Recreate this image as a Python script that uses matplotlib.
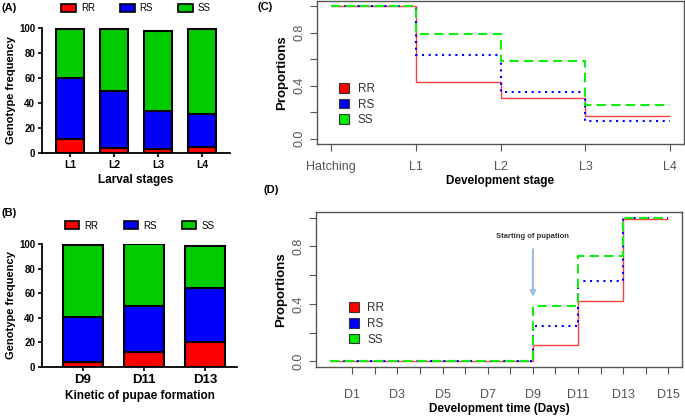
import numpy as np
import matplotlib
matplotlib.use("Agg")
import matplotlib.pyplot as plt
from matplotlib.patches import Patch

plt.rcParams['font.family'] = ['Liberation Sans', 'DejaVu Sans']

# Painel A - frequencia genotipica por estadio larval
larval = ["L1", "L2", "L3", "L4"]
a_rr = [11, 4, 3, 5]
a_rs = [49, 46, 31, 26]
a_ss = [39, 49, 64, 68]

# Painel B - formacao das pupas
pupae = ["D9", "D11", "D13"]
b_rr = [4, 12, 20]
b_rs = [37, 38, 44]
b_ss = [58, 50, 34]

# Painel C - proporcoes por estadio (degraus)
stages = ["Hatching", "L1", "L2", "L3", "L4"]
c_rr = [1.0, 0.43, 0.305, 0.175]
c_rs = [1.0, 0.63, 0.35, 0.13]
c_ss = [1.0, 0.79, 0.59, 0.255]

# Painel D - proporcoes por dia
d_edges = [0, 9, 11, 13, 15]
d_rr = [0.0, 0.11, 0.42, 0.99]
d_rs = [0.0, 0.243, 0.556, 1.0]
d_ss = [0.0, 0.387, 0.734, 1.0]
day_ticks = list(range(1, 16))

RED, BLUE, GREEN = "#ff0000", "#0000ff", "#00cc00"
GRAY = "#555555"

fig = plt.figure(figsize=(6.85, 4.16), dpi=100)


def bar_panel(rect, names, rr, rs, ss, width, xlim, tick_fs, xlabel, label_fs, leg_y, colsp):
    ax = fig.add_axes(rect)
    x = np.arange(len(names))
    kw = dict(width=width, edgecolor="black", linewidth=1.5)
    ax.bar(x, rr, color=RED, **kw)
    ax.bar(x, rs, bottom=rr, color=BLUE, **kw)
    ax.bar(x, ss, bottom=np.array(rr) + np.array(rs), color=GREEN, **kw)
    ax.set_xlim(*xlim)
    ax.set_ylim(0, 100)
    ax.set_yticks([0, 20, 40, 60, 80, 100])
    ax.set_xticks(x)
    ax.set_xticklabels(names, fontsize=tick_fs, fontweight="bold")
    for t in ax.get_yticklabels():
        t.set_fontsize(7)
        t.set_fontweight("bold")
    for s in ["top", "right"]:
        ax.spines[s].set_visible(False)
    for s in ["left", "bottom"]:
        ax.spines[s].set_linewidth(1.3)
    ax.tick_params(width=1.2, length=3, pad=2)
    ax.set_ylabel("Genotype frequency", fontsize=8, fontweight="bold", labelpad=2)
    ax.set_xlabel(xlabel, fontsize=label_fs, fontweight="bold", labelpad=3)
    handles = [Patch(facecolor=c, edgecolor="black", linewidth=1.2) for c in (RED, BLUE, GREEN)]
    ax.legend(handles, ["RR", "RS", "SS"], ncol=3, loc="center", bbox_to_anchor=(0.5, leg_y),
              frameon=False, fontsize=7, handlelength=1.5, handleheight=0.9,
              columnspacing=colsp, handletextpad=0.5)
    return ax


bar_panel([42 / 685, 1 - 153 / 416, 188 / 685, 125 / 416], larval, a_rr, a_rs, a_ss,
          0.64, (-0.64, 3.64), 7.5, "Larval stages", 8.5, 1.16, 2.6)
bar_panel([42 / 685, 1 - 367 / 416, 195 / 685, 123 / 416], pupae, b_rr, b_rs, b_ss,
          0.66, (-0.67, 2.52), 9.5, "Kinetic of pupae formation", 8.5, 1.15, 2.6)


def step_panel(rect, edges, rr, rs, ss, xlim):
    ax = fig.add_axes(rect)
    ax.stairs(rr, edges, baseline=None, color="#ff4040", linewidth=1.0)
    ax.stairs(rs, edges, baseline=None, color=BLUE, linewidth=1.5, linestyle=(0, (1, 2.2)))
    ax.stairs(ss, edges, baseline=None, color="#11ee11", linewidth=1.5, linestyle=(0, (4.5, 2.5)))
    ax.set_xlim(*xlim)
    ax.set_ylim(-0.04, 1.04)
    ax.set_yticks([0, 0.2, 0.4, 0.6, 0.8, 1.0])
    ax.set_yticklabels(["0.0", "", "0.4", "", "0.8", ""], rotation=90, va="center")
    for s in ax.spines.values():
        s.set_color(GRAY)
        s.set_linewidth(1.0)
    ax.tick_params(colors=GRAY, labelsize=9, length=5)
    ax.set_ylabel("Proportions", fontsize=9.5, fontweight="bold", labelpad=4)
    handles = [Patch(facecolor=c, edgecolor="#333333", linewidth=0.8) for c in (RED, BLUE, "#00ee00")]
    return ax, handles


ax_c, h = step_panel([317 / 685, 1 - 144 / 416, 367 / 685, 143 / 416],
                     list(range(len(stages))), c_rr, c_rs, c_ss, (-0.16, 4.16))
ax_c.set_xticks(range(len(stages)))
ax_c.set_xticklabels(stages)
ax_c.tick_params(axis="x", pad=7)
ax_c.set_xlabel("Development stage", fontsize=8.5, fontweight="bold", labelpad=2)
ax_c.legend(h, ["RR", "RS", "SS"], loc="upper left", bbox_to_anchor=(0.03, 0.5), frameon=False,
            fontsize=8.5, handlelength=0.9, handleheight=0.9, handletextpad=0.7,
            labelspacing=0.3, labelcolor="#333333")

ax_d, h = step_panel([316 / 685, 1 - 367 / 416, 366 / 685, 155 / 416],
                     d_edges, d_rr, d_rs, d_ss, (-0.6, 15.6))
ax_d.set_xticks(day_ticks)
ax_d.set_xticklabels(["D%d" % d if d % 2 == 1 else "" for d in day_ticks])
ax_d.tick_params(axis="x", pad=11)
ax_d.set_xlabel("Development time (Days)", fontsize=8.5, fontweight="bold", labelpad=1)
ax_d.legend(h, ["RR", "RS", "SS"], loc="upper left", bbox_to_anchor=(0.06, 0.485), frameon=False,
            fontsize=8.5, handlelength=0.9, handleheight=0.9, handletextpad=0.7,
            labelspacing=0.3, labelcolor="#333333")
ax_d.annotate("", xy=(9, 0.43), xytext=(9, 0.80),
              arrowprops=dict(arrowstyle="-|>", color="#9dbfe0", lw=1.5, mutation_scale=8))
ax_d.text(9, 0.87, "Starting of pupation", ha="center", va="center",
          fontsize=5.5, fontweight="bold", color="#333333")

# Rotulos dos paineis
for txt, x, y in [("(A)", 1, 8), ("(B)", 1, 213), ("(C)", 258, 7), ("(D)", 264, 190)]:
    fig.text(x / 685, 1 - y / 416, txt, fontsize=8, fontweight="bold", va="center", ha="left")

fig.savefig("out.png", dpi=100)
